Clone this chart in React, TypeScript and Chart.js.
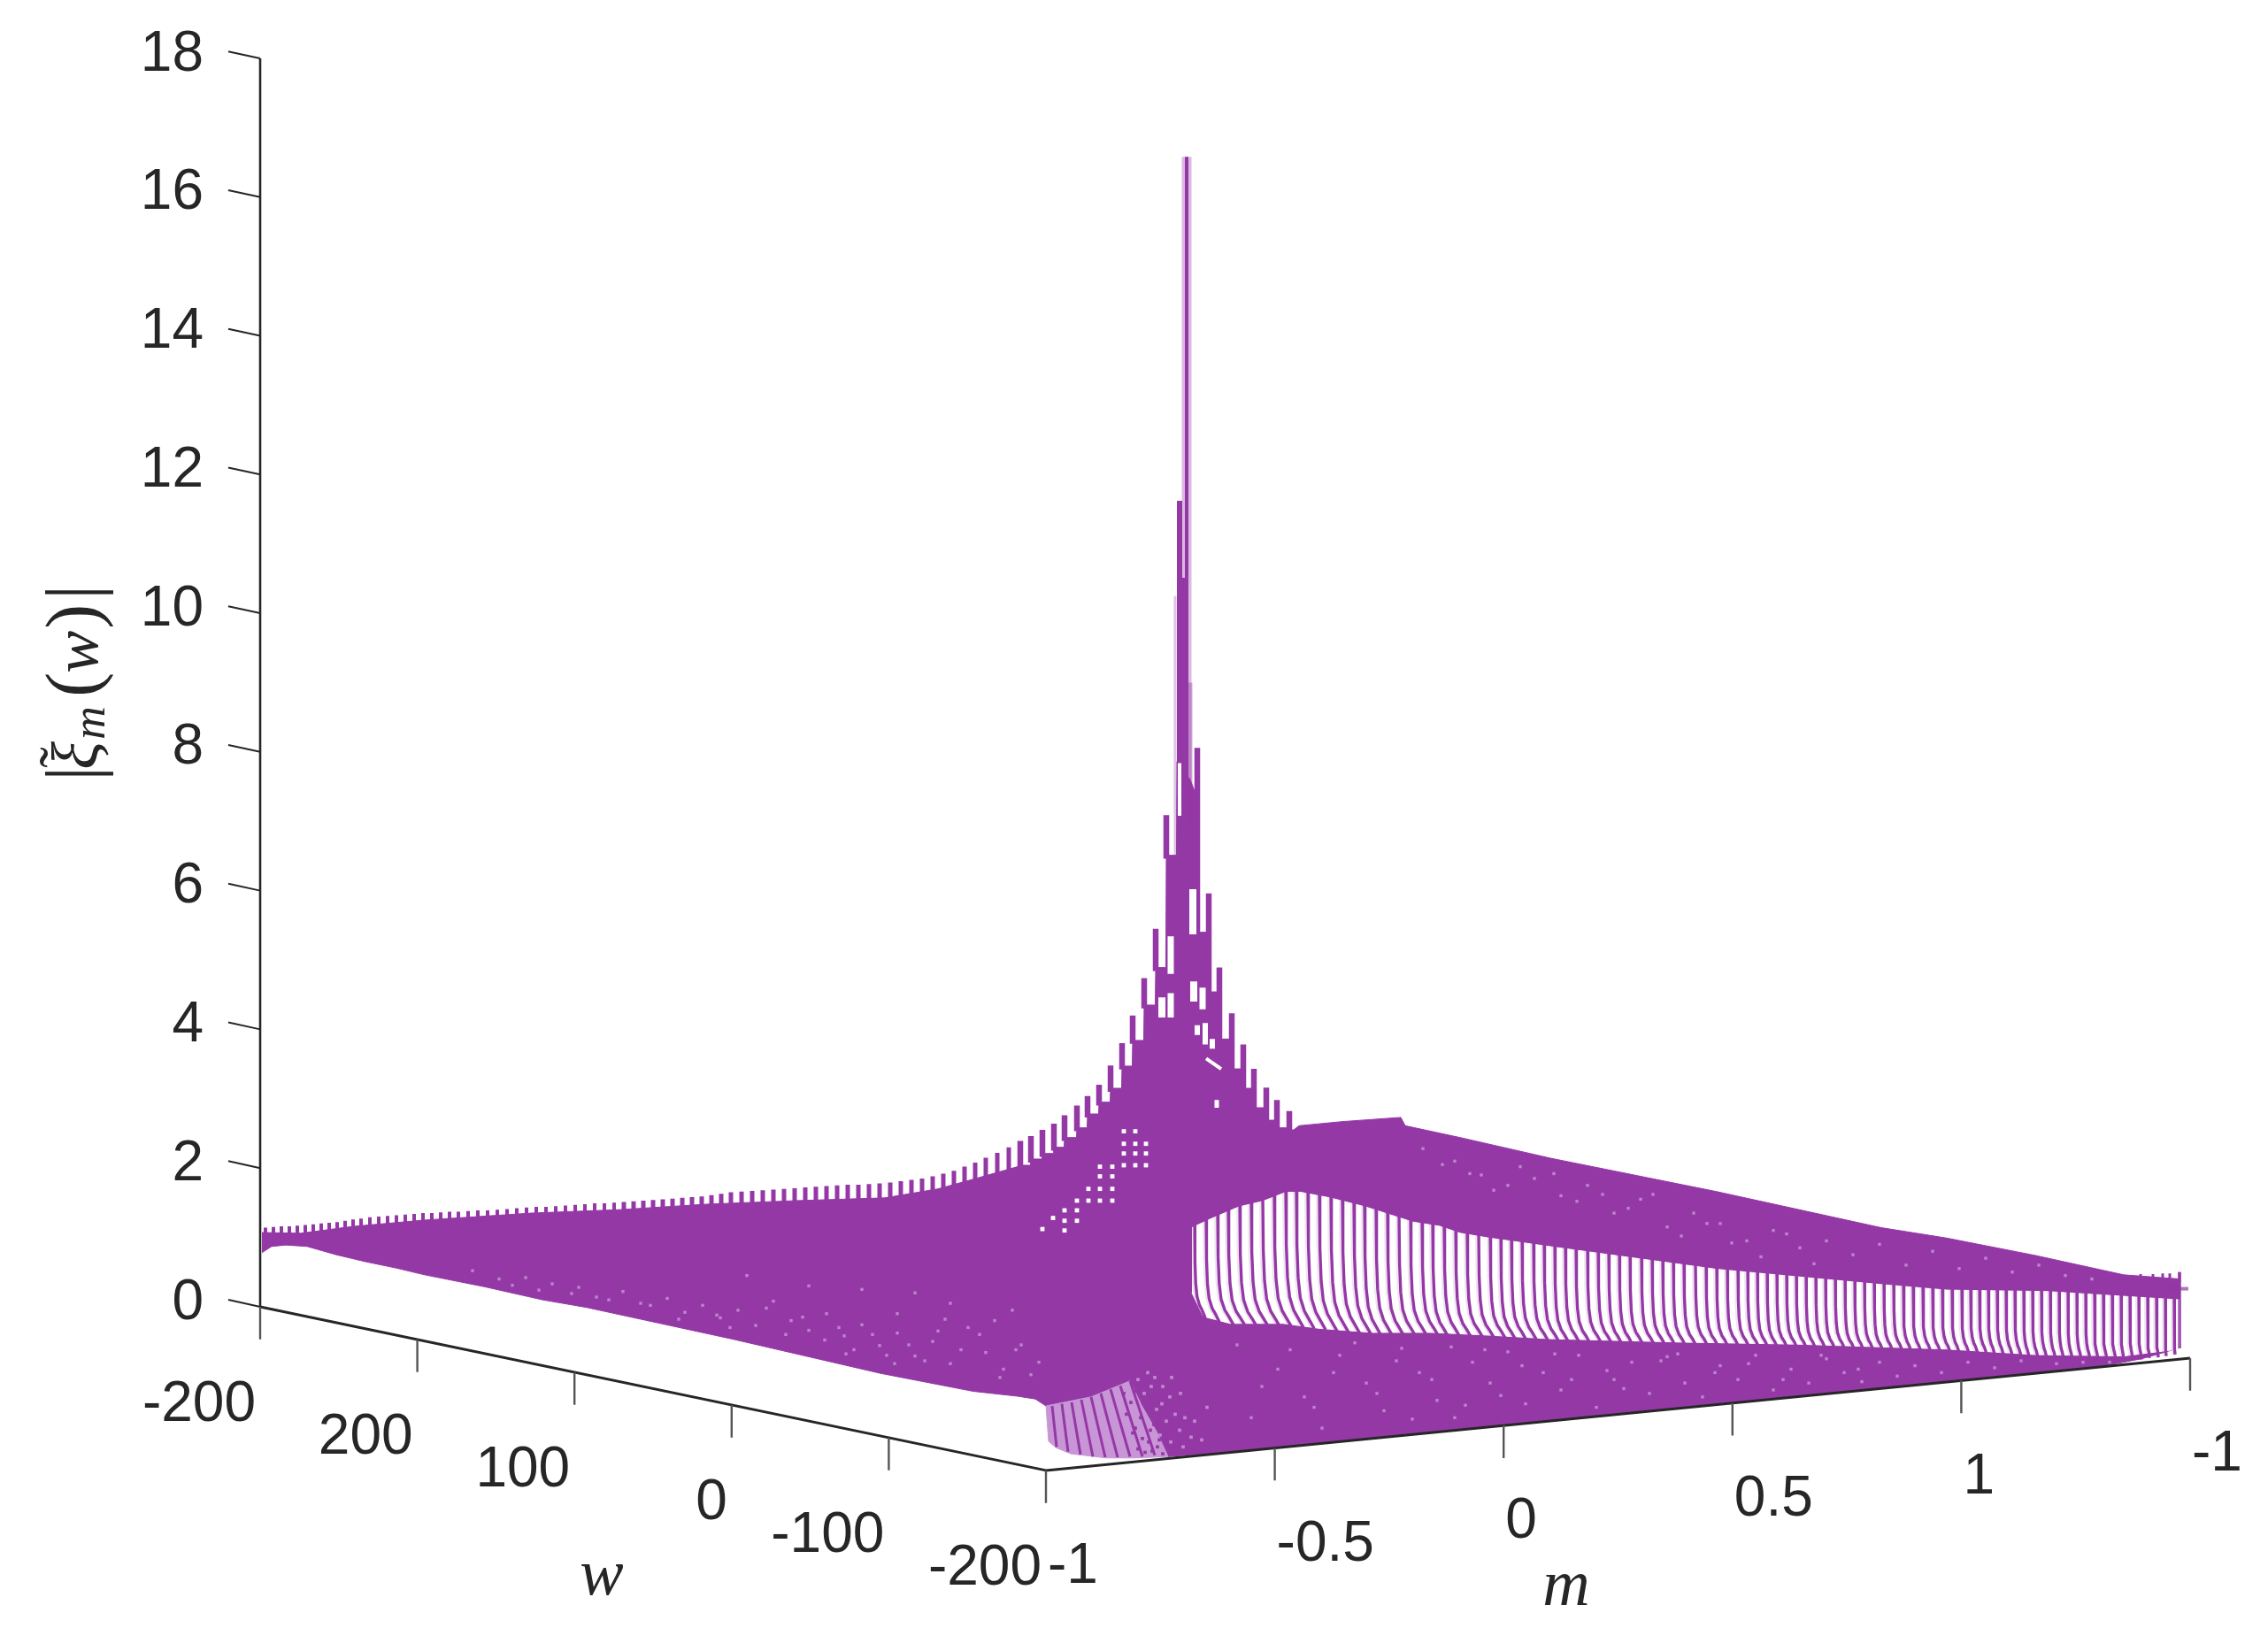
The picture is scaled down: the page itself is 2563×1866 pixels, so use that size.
import React, { useEffect, useRef } from "react";
import { Chart, registerables } from "chart.js";

Chart.register(...registerables);

const PURPLE = "#9438A6";
const INK = "#262626";

const zTicks = [0, 2, 4, 6, 8, 10, 12, 14, 16, 18];
const wTickLabels = ["-200", "200", "100", "0", "-100", "-200"];
const mTickLabels = ["-1", "-0.5", "0", "0.5", "1", "-1"];
const axisSteps = [0, 0.2, 0.4, 0.6, 0.8, 1];

// surface outline: p = projected horizontal position, h = height on the |xi| scale
const massTopP = [0.2, 4.6, 10.6, 18.6, 30.6, 40.6, 50.6, 60.6, 70.6, 76.6, 80.6, 85.6,
  85.9, 87.05, 87.1, 88.35, 88.4, 89.65, 89.7, 90.85, 90.9, 92.25, 92.3, 93.45, 93.5, 94.75, 94.8, 96.05, 96.1, 97.35, 97.4, 98.55, 98.6, 99.85, 99.9, 101.15, 101.2, 102.35, 102.4, 103.55,
  103.6, 105.1, 105.85,
  105.9, 107.15, 107.2, 108.35, 108.4, 109.75, 109.8, 111.05, 111.1, 112.25, 112.3, 113.65, 113.7, 114.85, 114.9, 116.25, 116.3, 116.8,
  117.4, 122.3, 128.9, 129.4, 135.6, 145.9, 164.6, 183.2, 190.6, 200.6, 210.6, 217];
const massTopH = [1.07, 1.06, 1.16, 1.25, 1.35, 1.40, 1.48, 1.53, 1.57, 1.70, 1.84, 2.02,
  2.04, 2.04, 2.13, 2.13, 2.21, 2.21, 2.30, 2.30, 2.44, 2.44, 2.58, 2.58, 2.78, 2.78, 2.95, 2.95, 3.15, 3.15, 3.47, 3.47, 3.84, 3.84, 4.35, 4.35, 4.89, 4.89, 6.51, 6.51,
  7.86, 7.60, 7.35,
  5.40, 5.40, 4.54, 4.54, 3.86, 3.86, 3.43, 3.43, 3.15, 3.15, 2.87, 2.87, 2.69, 2.69, 2.58, 2.58, 2.55, 2.55,
  2.61, 2.67, 2.73, 2.61, 2.44, 2.14, 1.66, 1.14, 0.99, 0.74, 0.46, 0.40];
const massBottomP = [0.2, 1.3, 2.9, 5.3, 8.6, 11.9, 15.3, 18.6, 25.3, 31.9, 36.9, 53.5, 70.1, 80.6, 85.6, 87.6, 88.8, 93.9, 98.3, 99.6, 101.3, 102.6, 115.6, 130.6, 150.6, 170.6, 190.6, 207.3, 212.6, 217];
const massBottomH = [0.78, 0.87, 0.89, 0.87, 0.75, 0.65, 0.56, 0.46, 0.29, 0.10, -0.01, -0.47, -0.96, -1.22, -1.29, -1.33, -1.43, -1.30, -1.07, -1.42, -1.80, -2.16, -2.03, -1.84, -1.58, -1.34, -1.08, -0.88, -0.75, -0.59];

const wallTopP = [88.8, 93.9, 98.3, 99.6, 101.3, 102.6];
const wallTopH = [-1.43, -1.30, -1.07, -1.42, -1.80, -2.16];
const wallBottomP = [88.8, 89.1, 89.9, 91.6, 95.6, 98.9, 102.6];
const wallBottomH = [-1.43, -1.94, -2.03, -2.12, -2.18, -2.18, -2.16];
const wallLineTopP = [89.5, 90.6, 91.7, 92.8, 93.9, 95.0, 96.1, 97.2, 98.3];
const wallLineTopH = [-1.43, -1.40, -1.38, -1.34, -1.30, -1.25, -1.19, -1.14, -1.07];
const wallLineBottomP = [90.0, 91.3, 92.7, 94.1, 95.5, 96.9, 98.3, 99.7, 101.1];
const wallLineBottomH = [-2.02, -2.09, -2.13, -2.16, -2.17, -2.17, -2.16, -2.16, -2.14];
// dither along the fading right side of the pale lattice
const ditherDarkP = [97.6, 98.4, 99.0, 99.5, 100.1, 100.6, 98.9, 99.7, 100.4, 101.0, 101.4, 99.2, 100.0, 100.8, 101.6, 102.0, 97.9, 98.6];
const ditherDarkH = [-1.25, -1.38, -1.22, -1.60, -1.45, -1.78, -1.75, -1.90, -1.95, -1.70, -2.02, -2.05, -2.10, -2.08, -1.92, -2.12, -1.55, -1.82];
const ditherPaleP = [99.2, 99.9, 100.7, 101.3, 101.9, 102.4, 100.3, 101.1, 102.0, 102.8, 103.4, 103.9, 104.5, 105.2, 103.0, 104.0, 105.6, 106.4, 107.0, 101.7, 102.9, 104.3];
const ditherPaleH = [-1.05, -1.25, -1.15, -1.48, -1.40, -1.65, -0.95, -1.02, -1.15, -1.30, -1.55, -1.78, -1.60, -1.88, -1.02, -1.25, -1.65, -1.92, -1.45, -1.85, -1.95, -2.02];

const gapTopP = [105.3, 107.3, 110.6, 113.3, 115.9, 117.6, 120.9, 124.9, 127.6, 130.3, 133.3, 135.6, 138.9, 142.3, 145.6, 164.6, 183.2, 190.6, 201.9, 216.9];
const gapTopH = [1.14, 1.26, 1.44, 1.52, 1.65, 1.65, 1.57, 1.44, 1.33, 1.22, 1.16, 1.06, 0.99, 0.93, 0.87, 0.54, 0.32, 0.24, 0.22, 0.10];
const gapBottomP = [105.3, 105.9, 106.6, 109.6, 115.6, 119.6, 125.6, 132.3, 138.9, 145.6, 160.6, 173.9, 190.6, 200.6, 210.6, 216.9];
const gapBottomH = [0.20, 0.04, -0.14, -0.24, -0.24, -0.31, -0.37, -0.37, -0.41, -0.46, -0.51, -0.54, -0.61, -0.69, -0.71, -0.61];

// teeth along the far edge of the surface
const toothP = [0.6, 1.5, 2.4, 3.3, 4.2, 5.1, 6.0, 6.9, 7.8, 8.7, 9.6, 10.5, 11.4, 12.4, 13.4, 14.4, 15.4, 16.4, 17.4, 18.4, 19.4, 20.4, 21.4, 22.4, 23.5, 24.6, 25.7, 26.8, 27.9, 29.0, 30.1, 31.2, 32.3, 33.4, 34.5, 35.6, 36.7, 37.8, 38.9, 40.0, 41.1, 42.2, 43.3, 44.4, 45.5, 46.6, 47.7, 48.8, 49.9, 51.0, 52.1, 53.2, 54.4, 55.6, 56.8, 58.0, 59.2, 60.4, 61.6, 62.8, 64.0, 65.2, 66.4, 67.6, 68.8, 70.0, 71.2, 72.4, 73.6, 74.8, 76.0, 77.2, 78.4, 79.6, 80.8, 82.0, 83.3, 84.6];
const toothH = [1.14, 1.15, 1.16, 1.16, 1.17, 1.18, 1.19, 1.20, 1.21, 1.22, 1.24, 1.26, 1.27, 1.29, 1.30, 1.31, 1.32, 1.33, 1.34, 1.35, 1.35, 1.36, 1.37, 1.37, 1.38, 1.39, 1.39, 1.40, 1.41, 1.42, 1.43, 1.44, 1.44, 1.45, 1.46, 1.47, 1.48, 1.49, 1.49, 1.50, 1.51, 1.52, 1.53, 1.54, 1.55, 1.56, 1.57, 1.58, 1.59, 1.61, 1.63, 1.65, 1.66, 1.67, 1.68, 1.69, 1.70, 1.71, 1.72, 1.73, 1.74, 1.75, 1.76, 1.76, 1.77, 1.78, 1.79, 1.81, 1.83, 1.85, 1.88, 1.92, 1.96, 2.02, 2.08, 2.15, 2.22, 2.30];
const peakToothP = [85.9, 87.1, 88.4, 89.7, 90.9, 92.3, 93.5, 94.8, 96.1, 97.4, 98.6, 99.9, 101.2, 102.4, 105.9, 107.2, 108.4, 109.8, 111.1, 112.3, 113.7, 114.9, 116.3];
const peakToothH = [2.39, 2.46, 2.55, 2.64, 2.76, 2.90, 3.04, 3.20, 3.48, 3.80, 4.20, 4.74, 5.45, 7.09, 8.06, 5.96, 4.89, 4.23, 3.78, 3.43, 3.16, 2.98, 2.82];
const endToothP = [212.5, 213.9, 215.0, 215.8, 216.9];
const endToothH = [0.47, 0.47, 0.48, 0.48, 0.50];

// central spike columns
const spikeP = [103.4, 105.1, 104.7, 103.9, 104.5, 104.7];
const spikeTopH = [10.25, 9.0, 16.58, 11.62, 10.51, 16.58];
const spikeBaseH = [6.5, 7.0, 7.5, 7.5, 7.5, 7.5];
const spikeWidth = [3, 5, 11, 6, 7, 4];
const spikeAlpha = [0.3, 0.4, 0.35, 1, 1, 1];

// comb of lines crossing the gap
const combP = [105.6, 106.9, 108.2, 109.4, 110.7, 112.0, 113.3, 114.6, 115.9, 117.1, 118.4, 119.7, 121.0, 122.3, 123.6, 124.8, 126.1, 127.4, 128.7, 130.0, 131.3, 132.5, 133.8, 135.1, 136.4, 137.7, 139.0,
  140.2, 141.4, 142.6, 143.9, 145.1, 146.3, 147.5, 148.7, 150.0, 151.2, 152.4, 153.6, 154.8, 156.1, 157.3, 158.5, 159.7, 160.9, 162.2, 163.4, 164.6, 165.8, 167.0,
  168.1, 169.2, 170.3, 171.4, 172.5, 173.6, 174.7, 175.8, 176.9, 178.0, 179.1, 180.2, 181.3, 182.4, 183.5, 184.6, 185.7, 186.8, 187.9, 189.0, 190.1, 191.2, 192.3,
  193.3, 194.3, 195.3, 196.3, 197.3, 198.3, 199.3, 200.3, 201.3, 202.3, 203.3, 204.3, 205.3, 206.3, 207.3, 208.3, 209.3, 210.3, 211.3, 212.3, 213.3, 214.3, 215.3, 216.3];
const combTopH = [1.16, 1.24, 1.33, 1.39, 1.44, 1.48, 1.52, 1.58, 1.65, 1.65, 1.63, 1.60, 1.57, 1.53, 1.48, 1.44, 1.39, 1.34, 1.28, 1.23, 1.20, 1.17, 1.15, 1.08, 1.04, 1.01, 0.99,
  0.97, 0.95, 0.92, 0.90, 0.88, 0.86, 0.84, 0.82, 0.80, 0.78, 0.76, 0.74, 0.72, 0.69, 0.67, 0.65, 0.63, 0.61, 0.59, 0.57, 0.54, 0.53, 0.52,
  0.50, 0.49, 0.48, 0.46, 0.45, 0.44, 0.43, 0.41, 0.40, 0.39, 0.37, 0.36, 0.35, 0.33, 0.32, 0.31, 0.30, 0.29, 0.27, 0.26, 0.25, 0.24, 0.24,
  0.24, 0.24, 0.23, 0.23, 0.23, 0.23, 0.22, 0.22, 0.22, 0.21, 0.21, 0.20, 0.19, 0.18, 0.17, 0.16, 0.15, 0.15, 0.14, 0.13, 0.12, 0.12, 0.11, 0.10];
const combBottomH = [-0.10, -0.16, -0.20, -0.23, -0.24, -0.24, -0.24, -0.24, -0.24, -0.25, -0.27, -0.29, -0.31, -0.33, -0.35, -0.36, -0.37, -0.37, -0.37, -0.37, -0.37, -0.38, -0.38, -0.39, -0.39, -0.40, -0.41,
  -0.42, -0.42, -0.43, -0.44, -0.45, -0.46, -0.46, -0.47, -0.47, -0.48, -0.48, -0.49, -0.49, -0.50, -0.50, -0.50, -0.51, -0.51, -0.51, -0.52, -0.52, -0.52, -0.53,
  -0.53, -0.53, -0.54, -0.54, -0.54, -0.55, -0.55, -0.55, -0.56, -0.56, -0.57, -0.57, -0.57, -0.58, -0.58, -0.58, -0.59, -0.59, -0.59, -0.60, -0.60, -0.60, -0.61,
  -0.61, -0.62, -0.62, -0.63, -0.64, -0.65, -0.66, -0.67, -0.68, -0.69, -0.69, -0.70, -0.70, -0.70, -0.71, -0.71, -0.71, -0.71, -0.70, -0.70, -0.68, -0.67, -0.65, -0.63];
const combLean = [1.2, 1.5, 1.8, 2.0, 2.0, 2.0, 2.0, 2.0, 2.0, 2.0, 2.0, 2.0, 2.0, 2.0, 2.0, 1.9, 1.9, 1.9, 1.9, 1.9, 1.9, 1.8, 1.8, 1.8, 1.8, 1.8, 1.8,
  1.7, 1.7, 1.7, 1.7, 1.7, 1.6, 1.6, 1.6, 1.6, 1.6, 1.5, 1.5, 1.5, 1.5, 1.5, 1.4, 1.4, 1.4, 1.4, 1.4, 1.3, 1.3, 1.3,
  1.3, 1.2, 1.2, 1.2, 1.2, 1.2, 1.1, 1.1, 1.1, 1.1, 1.1, 1.0, 1.0, 1.0, 1.0, 1.0, 0.9, 0.9, 0.9, 0.9, 0.9, 0.8, 0.8,
  0.8, 0.8, 0.7, 0.7, 0.7, 0.7, 0.6, 0.6, 0.6, 0.6, 0.5, 0.5, 0.5, 0.5, 0.4, 0.4, 0.4, 0.3, 0.3, 0.3, 0.2, 0.2, 0.1, 0.1];
const combBendHeight = [1, 0.6, 0.35, 0.2, 0.1, 0.04, 0];
const combBendLean = [0, 0.03, 0.1, 0.22, 0.45, 0.7, 1];

// white openings in the mesh near the peak
const holeP1 = [103.9, 102.9, 101.9, 102.9, 105.4, 105.5, 106.5, 105.9, 106.8, 107.6, 106.9, 108.1];
const holeH1 = [7.84, 5.34, 4.46, 4.52, 6.02, 4.69, 4.60, 4.06, 4.09, 3.86, 3.58, 2.98];
const holeP2 = [103.9, 102.9, 101.9, 102.9, 105.4, 105.5, 106.5, 105.9, 106.8, 107.6, 108.6, 108.1];
const holeH2 = [7.08, 4.80, 4.17, 4.17, 5.37, 4.40, 4.29, 3.92, 3.78, 3.72, 3.43, 2.87];
const holeWidth = [4, 7, 8, 7, 8, 8, 7, 6, 6, 6, 4, 5];

const latticeP = [97.6, 97.6, 97.6, 97.6, 98.9, 98.9, 98.9, 98.9, 100.1, 100.1, 100.1, 94.9, 94.9, 94.9, 94.9, 96.3, 96.3, 96.3, 96.3, 93.6, 93.6, 92.3, 92.3, 92.3, 90.9, 90.9, 89.6, 88.4, 90.9];
const latticeH = [2.53, 2.35, 2.21, 2.04, 2.53, 2.35, 2.21, 2.04, 2.35, 2.21, 2.04, 2.02, 1.88, 1.70, 1.53, 2.02, 1.88, 1.70, 1.53, 1.70, 1.53, 1.53, 1.39, 1.24, 1.39, 1.24, 1.28, 1.12, 1.10];

const speckleP = [24, 27, 30, 33, 36, 38, 41, 43, 46, 48, 50, 52, 54, 56, 58, 60, 62, 64, 66, 68, 70, 72, 74, 72, 76, 78, 80, 82, 84, 83, 86, 88, 85, 78, 74, 68, 62, 55,
  112, 115, 118, 120, 122, 125, 127, 129, 131, 133, 135, 137, 139, 141, 143, 145, 147, 149, 151, 153, 155, 157, 159, 161, 163, 165, 167, 169, 171, 173, 175, 177, 179, 181, 183, 185, 187, 190, 193, 196, 199, 203, 206, 209,
  135, 138, 141, 144, 147, 150, 153, 156, 159, 162, 165, 168, 171, 174, 177, 180, 183, 186, 189, 192, 195, 198, 201, 204, 207,
  28.5, 31.5, 35.2, 39.4, 44.1, 47.3, 51.6, 53.1, 57.2, 59.4, 61.3, 63.8, 65.4, 67.1, 69.2, 70.8, 73.3, 75.1, 77.4, 79.2, 81.3, 83.6, 85.4, 87.1, 66.2, 71.7, 76.6,
  110.4, 113.2, 116.4, 119.1, 121.3, 123.7, 126.2, 128.4, 130.2, 132.4, 134.6, 136.2, 138.4, 140.2, 142.6, 146.3, 148.2, 152.2, 154.1, 158.3, 160.2, 164.4, 168.2, 172.1, 176.4, 180.6,
  131.4, 133.6, 136.7, 139.4, 142.4, 146.2, 148.8, 151.7, 154.6, 157.4, 160.6, 163.5, 166.3, 169.6, 172.5, 175.6];
const speckleH = [0.52, 0.40, 0.42, 0.33, 0.28, 0.14, 0.22, 0.05, 0.12, -0.08, 0.02, -0.16, -0.05, -0.27, 0.08, -0.20, -0.34, -0.10, -0.42, -0.26, -0.56, -0.38, -0.71, -0.10, -0.50, -0.82, -0.30, -0.66, -0.90, -0.20, -0.55, -0.80, -0.05, 0.05, 0.20, 0.25, 0.30, 0.45,
  -1.60, -0.90, -1.30, -1.75, -0.70, -1.10, -1.50, -0.60, -0.95, -1.35, -1.60, -0.80, -1.10, -0.65, -1.40, -0.95, -1.20, -0.70, -1.45, -1.05, -0.80, -1.25, -0.72, -1.10, -1.30, -0.85, -1.05, -0.70, -1.20, -0.90, -1.10, -0.75, -0.95, -1.08, -0.80, -1.00, -0.85, -0.95, -0.80, -0.88, -0.78, -0.82, -0.80, -0.80,
  2.10, 1.90, 1.75, 1.85, 1.60, 1.75, 1.35, 1.55, 1.15, 1.35, 1.20, 0.95, 1.10, 0.85, 0.95, 0.75, 0.90, 0.60, 0.80, 0.55, 0.70, 0.50, 0.60, 0.45, 0.40,
  0.31, 0.24, 0.19, 0.10, 0.02, -0.18, -0.12, -0.30, -0.02, -0.40, -0.15, -0.48, -0.30, -0.62, -0.40, -0.70, -0.55, -0.78, -0.18, -0.62, -0.40, -1.02, -0.62, -0.98, -0.68, -0.82, -0.35,
  -0.55, -1.15, -0.62, -1.45, -0.95, -0.52, -1.25, -0.78, -1.62, -1.05, -0.58, -1.42, -0.62, -1.28, -0.85, -0.68, -1.05, -0.92, -1.18, -0.78, -0.68, -0.95, -0.82, -1.05, -0.70, -0.90,
  2.28, 2.05, 1.92, 1.68, 2.02, 1.92, 1.52, 1.62, 1.42, 1.62, 1.02, 1.20, 0.92, 0.72, 1.05, 0.62];

const endMarkP = [214.9, 217.9];
const endMarkH = [0.26, 0.26];

// axes geometry in chart units
const BACK_TO_FRONT_P = 88.8;
const BACK_TO_FRONT_H = -2.36;
const LEFT_TO_RIGHT_P = 129.3;
const LEFT_TO_RIGHT_H = 1.62;

const project = (a: number, b: number, z: number) => ({
  x: a * BACK_TO_FRONT_P + b * LEFT_TO_RIGHT_P,
  y: z + a * BACK_TO_FRONT_H + b * LEFT_TO_RIGHT_H,
});

const zipPts = (ps: number[], hs: number[]) => ps.map((x, i) => ({ x, y: hs[i] }));

const lerpAt = (ps: number[], hs: number[], p: number) => {
  for (let i = 1; i < ps.length; i++) {
    if (p <= ps[i]) {
      const t = (p - ps[i - 1]) / (ps[i] - ps[i - 1]);
      return hs[i - 1] + t * (hs[i] - hs[i - 1]);
    }
  }
  return hs[hs.length - 1];
};

const purpleA = (a: number) => `rgba(148,56,166,${a})`;

function buildDatasets() {
  const list: any[] = [];
  const line = (data: any[], color: string, width: number, extra: any = {}) =>
    list.push({ data, borderColor: color, borderWidth: width, pointRadius: 0, fill: false, clip: false, ...extra });
  const dots = (data: any[], color: string, radius: number) =>
    list.push({ data, showLine: false, pointRadius: radius, pointStyle: "rect", pointBackgroundColor: color, pointBorderWidth: 0, clip: false });

  // solid mass of the surface
  line(zipPts(massTopP, massTopH), PURPLE, 1, { fill: "+1", backgroundColor: PURPLE });
  line(zipPts(massBottomP, massBottomH), PURPLE, 1);

  // pale lattice at the front corner
  line(zipPts(wallTopP, wallTopH), "#c896d6", 1, { fill: "+1", backgroundColor: "#c896d6" });
  line(zipPts(wallBottomP, wallBottomH), "#c896d6", 1);
  wallLineTopP.forEach((p, i) =>
    line([{ x: p, y: wallLineTopH[i] }, { x: wallLineBottomP[i], y: wallLineBottomH[i] }], PURPLE, 3)
  );
  dots(zipPts(ditherDarkP, ditherDarkH), PURPLE, 2.6);
  dots(zipPts(ditherPaleP, ditherPaleH), "rgba(200,150,214,0.85)", 2.6);

  // teeth
  toothP.forEach((p, i) =>
    line([{ x: p, y: toothH[i] }, { x: p, y: lerpAt(massTopP, massTopH, p) - 0.05 }], PURPLE, p > 40 ? 5 : 4)
  );
  peakToothP.forEach((p, i) =>
    line([{ x: p, y: peakToothH[i] }, { x: p, y: lerpAt(massTopP, massTopH, p) - 0.05 }], PURPLE, 6.5)
  );
  endToothP.forEach((p, i) =>
    line([{ x: p, y: endToothH[i] }, { x: p, y: lerpAt(massTopP, massTopH, p) - 0.05 }], PURPLE, 3)
  );
  spikeP.forEach((p, i) =>
    line([{ x: p, y: spikeTopH[i] }, { x: p, y: spikeBaseH[i] }], purpleA(spikeAlpha[i]), spikeWidth[i], { borderCapStyle: "butt" })
  );

  // openings near the peak
  holeP1.forEach((p, i) =>
    line([{ x: p, y: holeH1[i] }, { x: holeP2[i], y: holeH2[i] }], "#ffffff", holeWidth[i])
  );
  dots(zipPts(latticeP, latticeH), "#ffffff", 3.4);
  dots(zipPts(speckleP, speckleH), "rgba(196,146,210,0.85)", 2.4);

  // white gap and the comb of lines across it
  line(zipPts(gapTopP, gapTopH), "#ffffff", 1, { fill: "+1", backgroundColor: "#ffffff" });
  line(zipPts(gapBottomP, gapBottomH), "#ffffff", 1);
  combP.forEach((p, i) => {
    const pts = combBendHeight.map((f, k) => ({
      x: p + combLean[i] * combBendLean[k],
      y: combBottomH[i] + f * (combTopH[i] - combBottomH[i]) + (k === 0 ? 0.06 : k === 6 ? -0.06 : 0),
    }));
    line(pts.map((q) => ({ x: q.x - 0.3, y: q.y })), purpleA(0.14), 2);
    line(pts, PURPLE, 3.4);
  });
  line([{ x: 216.9, y: 0.5 }, { x: 216.9, y: -0.6 }], purpleA(0.7), 4);
  line(zipPts(endMarkP, endMarkH), purpleA(0.7), 4);

  // axes
  line([project(0, 0, 0), project(0, 0, 18)], INK, 2.6);
  line([project(0, 0, 0), project(1, 0, 0)], INK, 3);
  line([project(1, 0, 0), project(1, 1, 0)], INK, 3);
  zTicks.forEach((z) =>
    line([{ x: 0, y: z }, { x: -3.6, y: z + 0.1 }], INK, 2)
  );
  axisSteps.forEach((a) => {
    const s = project(a, 0, 0);
    line([s, { x: s.x, y: s.y - 0.47 }], "#555555", 2.4);
  });
  axisSteps.slice(1).forEach((b) => {
    const s = project(1, b, 0);
    line([s, { x: s.x, y: s.y - 0.47 }], "#555555", 2.4);
  });

  const n = list.length;
  list.forEach((d, i) => (d.order = n - i));
  return list;
}

const TICK_FONT = '64px "Liberation Sans"';

const labels3d = {
  id: "labels3d",
  afterDraw(chart: any) {
    const { ctx, scales } = chart;
    const X = scales.x;
    const Y = scales.y;
    ctx.save();
    ctx.fillStyle = INK;
    ctx.textBaseline = "middle";
    ctx.font = TICK_FONT;
    ctx.textAlign = "right";
    wTickLabels.forEach((t, i) => {
      const s = project(axisSteps[i], 0, 0);
      ctx.fillText(t, X.getPixelForValue(s.x - 0.5), Y.getPixelForValue(s.y - 1.42));
    });
    ctx.textAlign = "left";
    mTickLabels.forEach((t, i) => {
      const s = project(1, axisSteps[i], 0);
      ctx.fillText(t, X.getPixelForValue(s.x + 0.2), Y.getPixelForValue(s.y - 1.4));
    });
    ctx.textAlign = "center";
    ctx.font = 'italic 74px "Liberation Serif"';
    ctx.fillText("w", X.getPixelForValue(38.6), Y.getPixelForValue(-3.9));
    ctx.fillText("m", X.getPixelForValue(147.6), Y.getPixelForValue(-4.05));

    // vertical title, set piece by piece
    const left = Y.left;
    const pieces = [
      { t: "|", off: 0, rise: 0, font: '84px "Liberation Serif"' },
      { t: "\u03BE", off: 13, rise: 0, font: 'italic 74px "Liberation Serif"' },
      { t: "\u02DC", off: 15, rise: 18, font: '70px "Liberation Serif"' },
      { t: "m", off: 47, rise: -8, font: 'italic 52px "Liberation Serif"' },
      { t: "(", off: 95, rise: 0, font: '84px "Liberation Serif"' },
      { t: "w", off: 122, rise: 0, font: 'italic 72px "Liberation Serif"' },
      { t: ")", off: 172, rise: 0, font: '84px "Liberation Serif"' },
      { t: "|", off: 205, rise: 0, font: '84px "Liberation Serif"' },
    ];
    ctx.translate(left + 110, Y.getPixelForValue(7.58));
    ctx.rotate(-Math.PI / 2);
    ctx.textAlign = "left";
    ctx.textBaseline = "alphabetic";
    pieces.forEach((pc) => {
      ctx.font = pc.font;
      ctx.fillText(pc.t, pc.off, -pc.rise);
    });
    ctx.restore();
  },
};

export default function App() {
  const ref = useRef<HTMLCanvasElement | null>(null);
  useEffect(() => {
    if (!ref.current) return;
    const chart = new Chart(ref.current, {
      type: "line",
      data: { datasets: buildDatasets() },
      options: {
        animation: false,
        responsive: false,
        devicePixelRatio: 1,
        events: [],
        layout: { padding: { left: 0, right: 88, top: 66, bottom: 5 } },
        elements: { line: { tension: 0 } },
        plugins: { legend: { display: false }, tooltip: { enabled: false } },
        scales: {
          x: { type: "linear", min: 0, max: 218.1, display: false },
          y: {
            type: "linear",
            min: -4.9,
            max: 18,
            grid: { display: false, drawTicks: false },
            border: { display: false },
            afterBuildTicks: (s: any) => {
              s.ticks = zTicks.map((value) => ({ value }));
            },
            afterFit: (s: any) => {
              s.width = 294;
              s.paddingTop = 0;
              s.paddingBottom = 0;
              s.paddingLeft = 0;
              s.paddingRight = 0;
            },
            ticks: {
              autoSkip: false,
              padding: 64,
              labelOffset: -4,
              color: INK,
              font: { family: '"Liberation Sans"', size: 64 },
            },
          },
        },
      } as any,
      plugins: [labels3d],
    } as any);
    return () => chart.destroy();
  }, []);
  return (
    <canvas
      ref={ref}
      width={2563}
      height={1866}
      style={{ position: "absolute", left: 0, top: 0, width: 2563, height: 1866, display: "block", filter: "blur(0.7px)" }}
    />
  );
}
